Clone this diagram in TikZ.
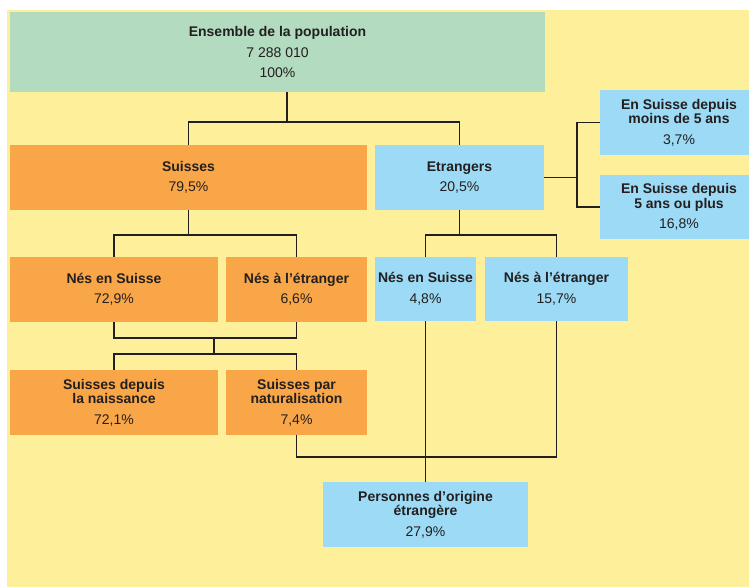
\documentclass[tikz,border=0pt]{standalone}
\usepackage{fontspec}
\setmainfont{Liberation Sans}
\usetikzlibrary{calc}
\definecolor{bgyellow}{HTML}{FEF09A}
\definecolor{boxgreen}{HTML}{B2DBBF}
\definecolor{boxorange}{HTML}{F8A648}
\definecolor{boxblue}{HTML}{9CDAF5}
\definecolor{ink}{HTML}{231F20}
\tikzset{
  box/.style={inner sep=0pt, align=center, text=ink,
    font=\fontsize{14}{14.5}\selectfont},
  gbox/.style={box, fill=boxgreen},
  obox/.style={box, fill=boxorange},
  bbox/.style={box, fill=boxblue},
  conn/.style={draw=ink, line width=1.5pt},
}
\newcommand{\bx}[4]{\textbf{#1}\\[6pt]#2}
\begin{document}
\begin{tikzpicture}[x=1pt,y=-1pt]
\useasboundingbox (0,0) rectangle (749,587);
\clip (0,0) rectangle (749,587);
\fill[bgyellow] (7,10) rectangle (749,587);

\node[gbox, minimum width=535pt, minimum height=80pt] (top) at (277.5,52)
  {\textbf{Ensemble de la population}\\[6pt]7 288 010\\[6pt]100\%};
\node[obox, minimum width=357pt, minimum height=65pt] (suisses) at (188.5,177.5)
  {\textbf{Suisses}\\[6pt]79,5\%};
\node[bbox, minimum width=169pt, minimum height=65pt] (etr) at (459.5,177.5)
  {\textbf{Etrangers}\\[6pt]20,5\%};
\node[bbox, minimum width=158pt, minimum height=65pt] (r1) at (679,122.5)
  {\textbf{En Suisse depuis}\\\textbf{moins de 5 ans}\\[6pt]3,7\%};
\node[bbox, minimum width=158pt, minimum height=64pt] (r2) at (679,207)
  {\textbf{En Suisse depuis}\\\textbf{5 ans ou plus}\\[6pt]16,8\%};
\node[obox, minimum width=208pt, minimum height=65pt] (snes) at (114,289.5)
  {\textbf{Nés en Suisse}\\[6pt]72,9\%};
\node[obox, minimum width=141pt, minimum height=65pt] (setr) at (296.5,289.5)
  {\textbf{Nés à l'étranger}\\[6pt]6,6\%};
\node[bbox, minimum width=101pt, minimum height=64pt] (enes) at (425.5,289)
  {\textbf{Nés en Suisse}\\[6pt]4,8\%};
\node[bbox, minimum width=143pt, minimum height=64pt] (eetr) at (556.5,289)
  {\textbf{Nés à l'étranger}\\[6pt]15,7\%};
\node[obox, minimum width=208pt, minimum height=65pt] (snaiss) at (114,402.5)
  {\textbf{Suisses depuis}\\\textbf{la naissance}\\[6pt]72,1\%};
\node[obox, minimum width=141pt, minimum height=65pt] (snat) at (296.5,402.5)
  {\textbf{Suisses par}\\\textbf{naturalisation}\\[6pt]7,4\%};
\node[bbox, minimum width=205pt, minimum height=65pt] (pers) at (425.5,514.5)
  {\textbf{Personnes d'origine}\\\textbf{étrangère}\\[6pt]27,9\%};

\coordinate (b1) at (287,122);
\coordinate (b2) at (577,0);
\coordinate (b3) at (0,235);
\coordinate (b4) at (214,338);
\coordinate (b5) at (0,354);
\coordinate (b6) at (0,457);

\draw[conn] (top.south -| b1) -- (b1);
\draw[conn] (suisses.north) |- (etr.north |- b1) -- (etr.north);
\draw[conn] (etr.east) -- (etr.east -| b2);
\draw[conn] (r1.west) -- (r1.west -| b2) -- (r2.west -| b2) -- (r2.west);
\draw[conn] (suisses.south) -- (suisses.south |- b3);
\draw[conn] (snes.north) |- (setr.north |- b3) -- (setr.north);
\draw[conn] (etr.south) -- (etr.south |- b3);
\draw[conn] (enes.north) |- (eetr.north |- b3) -- (eetr.north);
\draw[conn] (snes.south) |- (setr.south |- b4) -- (setr.south);
\draw[conn] (b4) -- (b4 |- b5);
\draw[conn] (snaiss.north) |- (snat.north |- b5) -- (snat.north);
\draw[conn] (snat.south) |- (eetr.south |- b6) -- (eetr.south);
\draw[conn] (enes.south) -- (pers.north);
\end{tikzpicture}
\end{document}
